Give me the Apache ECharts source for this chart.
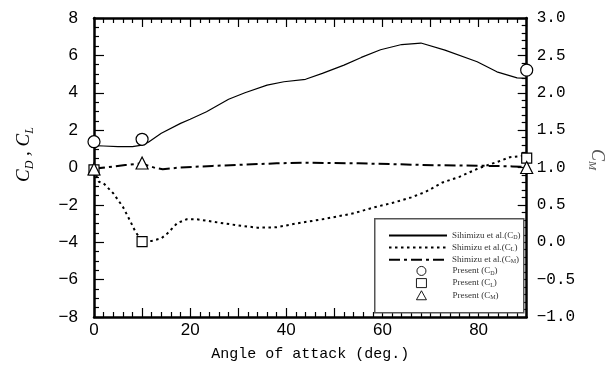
<!DOCTYPE html>
<html>
<head>
<meta charset="utf-8">
<script src="https://cdn.jsdelivr.net/npm/echarts@6/dist/echarts.min.js"></script>
<style>
  html, body { margin: 0; padding: 0; background: #fff; }
  #main { width: 614px; height: 372px; }
</style>
</head>
<body>
<div id="main"></div>
<script>
// Shimizu et al. curves: [angle, value]
var cdLine = [[0, 1.17], [2, 1.15], [5, 1.12], [8, 1.12], [10, 1.2], [11.3, 1.35], [14, 1.83], [18, 2.36],
  [20, 2.58], [23.4, 2.98], [28, 3.65], [31.4, 4.0], [36, 4.41], [39.5, 4.59], [44, 4.72], [47.5, 5.04],
  [52, 5.48], [55.6, 5.89], [59.6, 6.3], [64, 6.58], [68, 6.66], [73, 6.28], [79.7, 5.66], [83.8, 5.12],
  [88, 4.8], [90, 4.77]];
var clLine = [[0, -0.13], [1, -0.76], [2, -0.85], [4, -1.38], [6, -2.1], [7.6, -2.9], [8.6, -3.43], [10, -3.95],
  [12, -3.93], [14, -3.79], [15.3, -3.52], [17.3, -2.98], [19.3, -2.77], [21.4, -2.77], [26, -2.95],
  [30, -3.1], [34, -3.22], [38, -3.2], [42, -3.0], [48, -2.75], [54, -2.45], [58, -2.15], [62, -1.9],
  [66, -1.6], [69, -1.3], [72.5, -0.8], [76, -0.5], [80, -0.04], [84, 0.31], [86.5, 0.55], [90, 0.65]];
// C_M on the right axis
var cmLine = [[0, 0.984], [3, 1.005], [6.5, 1.033], [9, 1.05], [10, 1.056], [11, 1.03], [12.7, 0.995],
  [14.3, 0.976], [18, 1.001], [24.6, 1.021], [31.4, 1.039], [38, 1.056], [44, 1.065], [48, 1.061],
  [55, 1.056], [62, 1.045], [68, 1.035], [72, 1.03], [80, 1.024], [87, 1.015], [90, 1.006]];
// present results
var cdPresent = [[0, 1.38], [10, 1.51], [90, 5.21]];
var clPresent = [[0, -0.13], [10, -3.97], [90, 0.5]];
var cmPresent = [[0, 0.98], [10, 1.06], [90, 1.0]];

var lineNames = ['Sihimizu et al.(CD)', 'Shimizu et al.(CL)', 'Shimizu et al.(CM)'];
var pointNames = ['Present (CD)', 'Present (CL)', 'Present (CM)'];
var legendLabels = {
  'Sihimizu et al.(CD)': '{t|Sihimizu et al.(C}{s|D}{t|)}',
  'Shimizu et al.(CL)': '{t|Shimizu et al.(C}{s|L}{t|)}',
  'Shimizu et al.(CM)': '{t|Shimizu et al.(C}{s|M}{t|)}',
  'Present (CD)': '{t|Present (C}{s|D}{t|)}',
  'Present (CL)': '{t|Present (C}{s|L}{t|)}',
  'Present (CM)': '{t|Present (C}{s|M}{t|)}'
};

var chart = echarts.init(document.getElementById('main'));

var numFont = "'Liberation Sans Narrow', 'Liberation Sans', sans-serif";
var monoFont = "'Liberation Mono', 'DejaVu Sans Mono', monospace";
var serifFont = "'Liberation Serif', serif";
var tickStyle = { color: '#000', width: 1.2 };
var axisLineStyle = { show: true, onZero: false, lineStyle: { color: '#000', width: 2.5 } };
var legendRich = {
  t: { fontFamily: serifFont, fontSize: 9, color: '#333', lineHeight: 10 },
  s: { fontFamily: serifFont, fontSize: 6, color: '#333', lineHeight: 6, verticalAlign: 'bottom' }
};
var pointStyle = { color: '#fff', borderColor: '#000', borderWidth: 1.2, opacity: 1 };

function xAxisOf(pos) {
  return {
    type: 'value', position: pos, min: 0, max: 90, interval: 10,
    name: pos === 'bottom' ? 'Angle of attack (deg.)' : '',
    nameLocation: 'middle', nameGap: 30,
    nameTextStyle: { fontFamily: monoFont, fontSize: 15, color: '#000' },
    axisLine: axisLineStyle,
    axisTick: { show: true, inside: true, length: 9, lineStyle: tickStyle },
    minorTick: { show: true, splitNumber: 5, length: 5, lineStyle: tickStyle },
    splitLine: { show: false },
    axisLabel: {
      show: pos === 'bottom', margin: 5, fontFamily: numFont, fontSize: 17, color: '#000',
      formatter: function (v) { return v % 20 === 0 ? String(v) : ''; }
    }
  };
}

var option = {
  animation: false,
  backgroundColor: '#fff',
  grid: { left: 94, right: 73, top: 18, bottom: 55 },
  xAxis: [xAxisOf('bottom'), xAxisOf('top')],
  yAxis: [
    {
      type: 'value', position: 'left', min: -8, max: 8, interval: 2,
      name: '{i|C}{s|D}{i| , C}{s|L}', nameLocation: 'middle', nameGap: 58,
      nameTextStyle: {
        padding: [0, 0, 0, 26],
        rich: {
          i: { fontFamily: serifFont, fontStyle: 'italic', fontSize: 19, color: '#000', lineHeight: 24 },
          s: { fontFamily: serifFont, fontStyle: 'italic', fontSize: 12, color: '#000', lineHeight: 12, verticalAlign: 'bottom' }
        }
      },
      axisLine: axisLineStyle,
      axisTick: { show: true, inside: true, length: 10, lineStyle: tickStyle },
      minorTick: { show: true, splitNumber: 4, length: 5, lineStyle: tickStyle },
      splitLine: { show: false },
      axisLabel: {
        margin: 16, fontFamily: numFont, fontSize: 17, color: '#000',
        formatter: function (v) { return String(v).replace('-', '\u2212'); }
      }
    },
    {
      type: 'value', position: 'right', min: -1, max: 3, interval: 0.5,
      name: '{i|C}{s|M}', nameLocation: 'middle', nameGap: 50, nameRotate: -90,
      nameTextStyle: {
        padding: [0, 16, 0, 0],
        rich: {
          i: { fontFamily: serifFont, fontStyle: 'italic', fontSize: 18, color: '#555', lineHeight: 22 },
          s: { fontFamily: serifFont, fontStyle: 'italic', fontSize: 11, color: '#555', lineHeight: 11, verticalAlign: 'bottom' }
        }
      },
      axisLine: axisLineStyle,
      axisTick: { show: true, inside: true, length: 9, lineStyle: tickStyle },
      minorTick: { show: true, splitNumber: 5, length: 5, lineStyle: tickStyle },
      splitLine: { show: false },
      axisLabel: {
        margin: 10, fontFamily: monoFont, fontSize: 16, color: '#000',
        formatter: function (v) { return v.toFixed(1).replace('-', '\u2212'); }
      }
    }
  ],
  legend: [
    {
      orient: 'vertical', left: 383, top: 226,
      itemWidth: 58, itemHeight: 10, itemGap: 2.6,
      data: lineNames,
      formatter: function (name) { return legendLabels[name]; },
      textStyle: { rich: legendRich }
    },
    {
      orient: 'vertical', left: 411, top: 261,
      itemWidth: 10, itemHeight: 9, itemGap: 2.2,
      symbolKeepAspect: true,
      itemStyle: { borderWidth: 0.9 },
      data: pointNames,
      formatter: function (name) { return legendLabels[name]; },
      textStyle: { padding: [0, 0, 0, 21], rich: legendRich }
    }
  ],
  graphic: [{
    type: 'rect', left: 374, top: 218, z: 3,
    shape: { width: 149, height: 94 },
    style: { fill: '#fff', stroke: '#555', lineWidth: 1.5 }
  }],
  series: [
    {
      name: lineNames[0], type: 'line', data: cdLine, symbol: 'none',
      lineStyle: { color: '#000', width: 1.2, type: 'solid' }, itemStyle: { color: 'rgba(0,0,0,0)' }
    },
    {
      name: lineNames[1], type: 'line', data: clLine, symbol: 'none',
      lineStyle: { color: '#000', width: 2, type: [2.5, 3.5] }, itemStyle: { color: 'rgba(0,0,0,0)' }
    },
    {
      name: lineNames[2], type: 'line', data: cmLine, yAxisIndex: 1, symbol: 'none',
      lineStyle: { color: '#000', width: 2, type: [11, 4, 3, 4] }, itemStyle: { color: 'rgba(0,0,0,0)' }
    },
    {
      name: pointNames[0], type: 'scatter', data: cdPresent, symbol: 'circle', symbolSize: 12, clip: false, z: 5,
      itemStyle: pointStyle
    },
    {
      name: pointNames[1], type: 'scatter', data: clPresent, symbol: 'rect', symbolSize: 10, clip: false, z: 5,
      itemStyle: pointStyle
    },
    {
      name: pointNames[2], type: 'scatter', data: cmPresent, yAxisIndex: 1, symbol: 'triangle', symbolSize: 12, clip: false, z: 5,
      itemStyle: pointStyle
    }
  ]
};

chart.setOption(option);
</script>
</body>
</html>
